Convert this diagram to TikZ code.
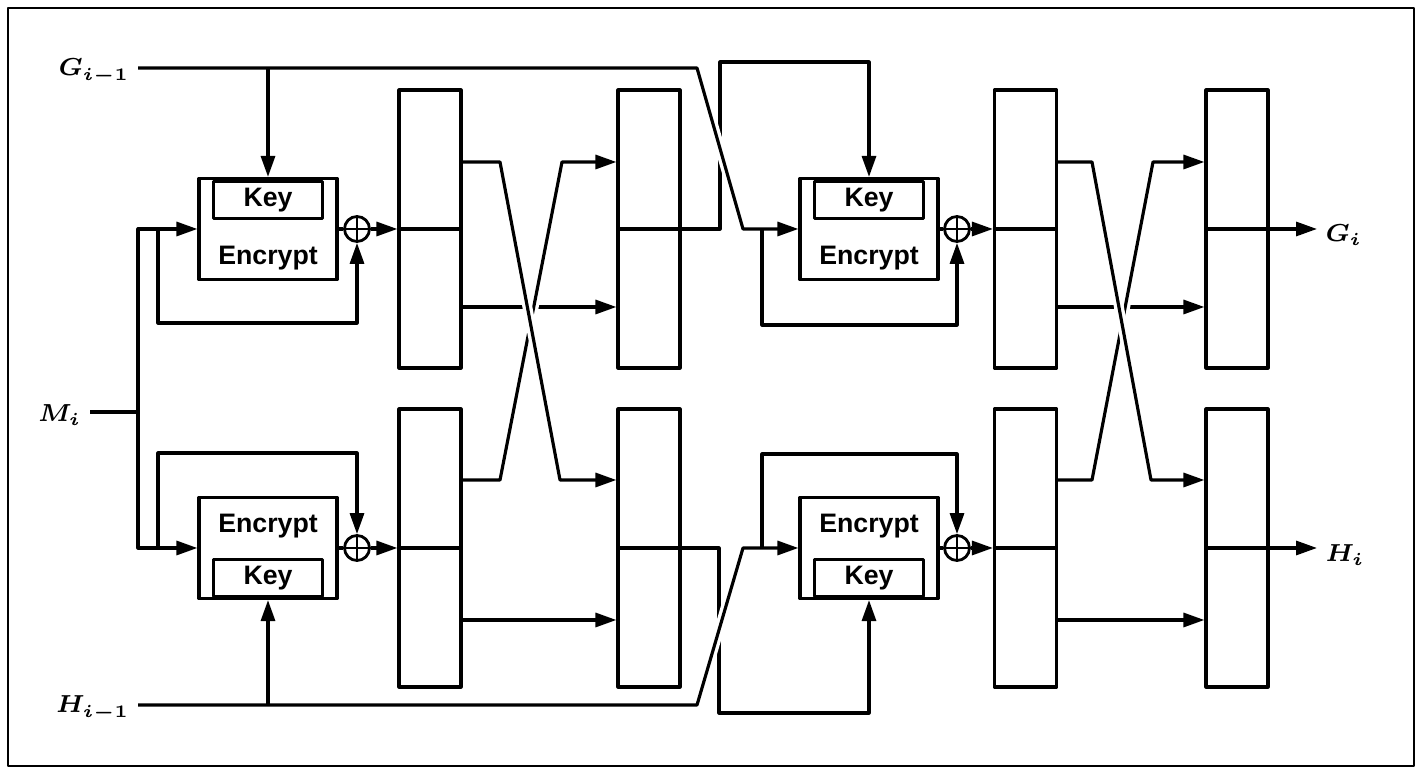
\documentclass[tikz,border=0pt]{standalone}
\usepackage{fontspec}
\setmainfont{Liberation Sans}
\usetikzlibrary{arrows.meta,positioning}
\begin{document}
\begin{tikzpicture}[x=0.1mm, y=-0.1mm, line width=0.9pt, line join=round, >={Triangle[length=2.1mm, width=1.4mm]},
		font=\fontsize{7.6}{9}\selectfont\bfseries,
		blk/.style={draw, minimum width=6.2mm, minimum height=27.8mm, inner sep=0pt},
		encbox/.style={draw, minimum width=13.8mm, minimum height=10.1mm, inner sep=0pt},
		keybox/.style={draw, minimum width=10.9mm, minimum height=3.7mm, inner sep=0pt},
		xor/.style={draw, circle, minimum size=2.5mm, inner sep=0pt, line width=0.8pt,
			path picture={\draw[line width=0.8pt] (path picture bounding box.north) -- (path picture bounding box.south)
				(path picture bounding box.west) -- (path picture bounding box.east);}},
		sig/.style={inner sep=2pt, font=\fontsize{7.5}{9}\selectfont\boldmath},
		halo/.style={draw=white, line width=2.8pt}]
	\useasboundingbox (0,0) rectangle (1422,774);
	\draw[line width=0.6pt] (8,8) rectangle (1414,766);
	\foreach \n/\x in {1/430,2/649,3/1025.5,4/1237} {
		\node[blk] (blkG\n) at (\x,229) {};
		\node[blk] (blkH\n) at (\x,548) {};
		\draw (blkG\n.west) -- (blkG\n.east) (blkH\n.west) -- (blkH\n.east);
	}
	\node[encbox] (encG1) at (268,229) {};
	\node[encbox] (encH1) at (268,548) {};
	\node[encbox] (encG2) at (869,229) {};
	\node[encbox] (encH2) at (869,548) {};
	\node[keybox, below=0.3mm of encG1.north] (keyG1) {Key};
	\node[keybox, above=0.2mm of encH1.south] (keyH1) {Key};
	\node[keybox, below=0.3mm of encG2.north] (keyG2) {Key};
	\node[keybox, above=0.2mm of encH2.south] (keyH2) {Key};
	\node[below=1.3mm of keyG1] (txtG1) {Encrypt};
	\node[above=0.7mm of keyH1] (txtH1) {Encrypt};
	\node[below=1.3mm of keyG2] (txtG2) {Encrypt};
	\node[above=0.7mm of keyH2] (txtH2) {Encrypt};
	\node[xor] (xorG1) at (357,229) {};
	\node[xor] (xorH1) at (357,548) {};
	\node[xor] (xorG2) at (957,229) {};
	\node[xor] (xorH2) at (957,548) {};
	\node[sig, anchor=base east] (Gin) at (138,76) {$G_{i-1}$};
	\node[sig, anchor=base east] (Min) at (90,422) {$M_i$};
	\node[sig, anchor=base east] (Hin) at (138,713) {$H_{i-1}$};
	\node[sig, anchor=base west] (Gout) at (1317,242) {$G_i$};
	\node[sig, anchor=base west] (Hout) at (1317,562) {$H_i$};
	\coordinate (gk) at (697,68);
	\coordinate (hk) at (697,705);
	\coordinate (msplit) at (138,412);
	\coordinate (r1) at (0,162);
	\coordinate (r2) at (0,307);
	\coordinate (r3) at (0,480);
	\coordinate (r4) at (0,620);
	\draw (Min.base east |- msplit) -- (msplit);
	\draw[->] (msplit) |- (encG1.west);
	\draw[->] (msplit) |- (encH1.west);
	\draw[->] (158,229) -- (158,323) -| (xorG1.south);
	\draw[->] (158,548) -- (158,453) -| (xorH1.north);
	\draw[->] (encG1.north |- gk) -- (encG1.north);
	\draw[->] (encH1.south |- hk) -- (encH1.south);
	\draw (encG1.east) -- (xorG1.west);
	\draw (encH1.east) -- (xorH1.west);
	\draw[->] (xorG1.east) -- (blkG1.west);
	\draw[->] (xorH1.east) -- (blkH1.west);
	\draw[->] (blkG1.east |- r2) -- (blkG2.west |- r2);
	\draw[->] (blkH1.east |- r4) -- (blkH2.west |- r4);
	\draw[halo] (500,480) -- (562,162);
	\draw[->] (blkH1.east |- r3) -- (500,480) -- (562,162) -- (blkG2.west |- r1);
	\draw[halo] (500,162) -- (560,480);
	\draw[->] (blkG1.east |- r1) -- (500,162) -- (560,480) -- (blkH2.west |- r3);
	\draw[->] (blkG2.east) -- (720,229) -- (720,62) -| (encG2.north);
	\draw[->] (blkH2.east) -- (719,548) -- (719,713) -| (encH2.south);
	\draw[halo] (gk) -- (743,229);
	\draw[->] (Gin.base east |- gk) -- (gk) -- (743,229) -- (encG2.west);
	\draw[halo] (hk) -- (743,548);
	\draw[->] (Hin.base east |- hk) -- (hk) -- (743,548) -- (encH2.west);
	\draw[->] (762,229) -- (762,325) -| (xorG2.south);
	\draw[->] (762,548) -- (762,454) -| (xorH2.north);
	\draw (encG2.east) -- (xorG2.west);
	\draw (encH2.east) -- (xorH2.west);
	\draw[->] (xorG2.east) -- (blkG3.west);
	\draw[->] (xorH2.east) -- (blkH3.west);
	\draw[->] (blkG3.east |- r2) -- (blkG4.west |- r2);
	\draw[->] (blkH3.east |- r4) -- (blkH4.west |- r4);
	\draw[halo] (1092,480) -- (1153,162);
	\draw[->] (blkH3.east |- r3) -- (1092,480) -- (1153,162) -- (blkG4.west |- r1);
	\draw[halo] (1092,162) -- (1151,480);
	\draw[->] (blkG3.east |- r1) -- (1092,162) -- (1151,480) -- (blkH4.west |- r3);
	\draw[->] (blkG4.east) -- (blkG4.east -| Gout.west);
	\draw[->] (blkH4.east) -- (blkH4.east -| Hout.west);
\end{tikzpicture}
\end{document}
